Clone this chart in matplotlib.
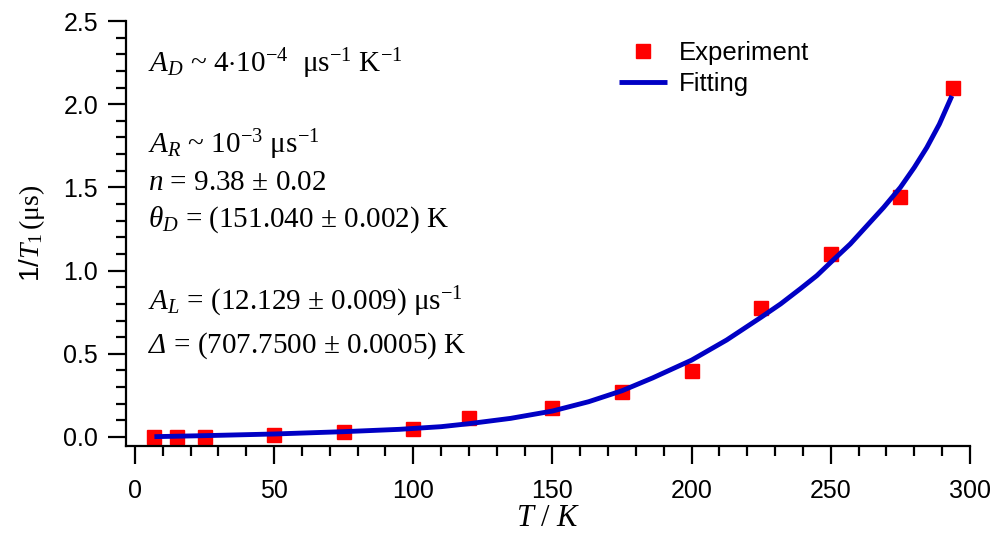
import matplotlib
matplotlib.use("Agg")
import matplotlib.pyplot as plt
from matplotlib.ticker import MultipleLocator

plt.rcParams['mathtext.fontset'] = 'custom'
plt.rcParams['mathtext.rm'] = 'Liberation Serif'
plt.rcParams['mathtext.it'] = 'Liberation Serif:italic'
plt.rcParams['mathtext.bf'] = 'Liberation Serif:bold'
plt.rcParams['mathtext.sf'] = 'Liberation Serif:italic'   # used for the italic Delta
plt.rcParams['font.family'] = ['Liberation Sans', 'DejaVu Sans']

# experiment (T in K, 1/T1 in 1/us)
temp = [7, 15, 25, 50, 75, 100, 120, 150, 175, 200, 225, 250, 275, 294]
rate = [0.0, 0.0, 0.0, 0.012, 0.028, 0.047, 0.113, 0.172, 0.271, 0.397, 0.773, 1.10, 1.444, 2.096]

# fitted curve
fit_t = [7, 25, 50, 75, 95, 110, 120, 135, 150, 163, 175, 186, 200, 212.6, 225,
         232, 239, 245, 250, 257, 263, 269, 275, 280, 284.5, 289, 293.5]
fit_r = [0.002, 0.008, 0.018, 0.032, 0.046, 0.062, 0.080, 0.112, 0.156, 0.212, 0.278,
         0.355, 0.462, 0.583, 0.72, 0.80, 0.89, 0.97, 1.05, 1.16, 1.27, 1.38, 1.50,
         1.62, 1.74, 1.88, 2.05]

notes = [
    (r"$A_D$ ~ 4$\cdot$10$^{-4}$  μs$^{-1}$ K$^{-1}$", 2.19),
    (r"$A_R$ ~ 10$^{-3}$ μs$^{-1}$", 1.707),
    (r"$n$ = 9.38 ± 0.02", 1.484),
    (r"$\theta_D$ = (151.040 ± 0.002) K", 1.262),
    (r"$A_L$ = (12.129 ± 0.009) μs$^{-1}$", 0.763),
    (r"$\mathsf{Δ}$ = (707.7500 ± 0.0005) K", 0.505),
]

fig = plt.figure(figsize=(9.93, 5.35), dpi=100)
ax = fig.add_axes([0.1269, 0.1664, 0.8499, 0.7943])

ax.plot(fit_t, fit_r, color='#0000c4', lw=3.5, label='Fitting', zorder=3,
        solid_capstyle='butt', solid_joinstyle='round')
ax.plot(temp, rate, 's', color='#ff0000', ms=9.5, label='Experiment', zorder=2)

ax.set_xlim(-3.2, 300)
ax.set_ylim(-0.054, 2.5)
ax.xaxis.set_major_locator(MultipleLocator(50))
ax.xaxis.set_minor_locator(MultipleLocator(10))
ax.yaxis.set_major_locator(MultipleLocator(0.5))
ax.yaxis.set_minor_locator(MultipleLocator(0.1))
ax.yaxis.set_major_formatter(plt.FuncFormatter(lambda v, p: "%.1f" % v))

for s in ['top', 'right']:
    ax.spines[s].set_visible(False)
for s in ['left', 'bottom']:
    ax.spines[s].set_linewidth(1.6)

ax.tick_params(which='major', length=13, width=1.6, labelsize=18)
ax.tick_params(which='minor', length=7.5, width=1.6)
ax.tick_params(axis='x', which='major', pad=11)
ax.tick_params(axis='y', which='major', pad=7)

ax.set_xlabel(r"$T\ /\ K$", fontsize=22, labelpad=0)
ax.set_ylabel(r"1/$T_1\,\mathrm{(μs)}$", fontsize=20, labelpad=12)

for txt, yv in notes:
    ax.text(4.7, yv, txt, fontsize=21, family='Liberation Serif', va='baseline')

h, l = ax.get_legend_handles_labels()
ax.legend(h[::-1], l[::-1], loc='upper left', bbox_to_anchor=(0.557, 1.007),
          frameon=False, fontsize=18.5, handlelength=1.87, labelspacing=0.25,
          handletextpad=0.47)

fig.savefig("out.png", dpi=100)
